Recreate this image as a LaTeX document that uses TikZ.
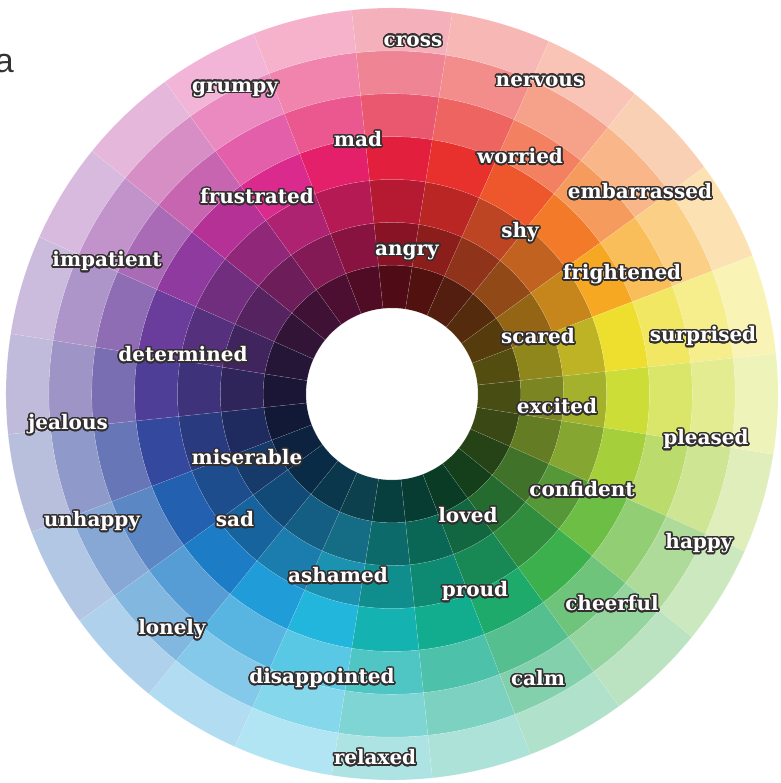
\documentclass[tikz,border=0pt]{standalone}
\usepackage{fontspec}
\usepackage[copies]{contour}
\setmainfont{DejaVu Serif}
\setsansfont{Liberation Sans}
\contourlength{1.5pt}
\contournumber{24}

\definecolor{hue0}{HTML}{E8302C}
\definecolor{hue1}{HTML}{EE562C}
\definecolor{hue2}{HTML}{F27A28}
\definecolor{hue3}{HTML}{F7A823}
\definecolor{hue4}{HTML}{EEDF2E}
\definecolor{hue5}{HTML}{CDDD38}
\definecolor{hue6}{HTML}{A6CF3C}
\definecolor{hue7}{HTML}{6CBE45}
\definecolor{hue8}{HTML}{3DB04E}
\definecolor{hue9}{HTML}{1EAA6A}
\definecolor{hue10}{HTML}{12AC8E}
\definecolor{hue11}{HTML}{14B2B0}
\definecolor{hue12}{HTML}{22B6DC}
\definecolor{hue13}{HTML}{209CD8}
\definecolor{hue14}{HTML}{1C7CC6}
\definecolor{hue15}{HTML}{2460B0}
\definecolor{hue16}{HTML}{34489E}
\definecolor{hue17}{HTML}{4E3E98}
\definecolor{hue18}{HTML}{6A3C9C}
\definecolor{hue19}{HTML}{8E3A9E}
\definecolor{hue20}{HTML}{B53196}
\definecolor{hue21}{HTML}{DA2A8E}
\definecolor{hue22}{HTML}{E4206A}
\definecolor{hue23}{HTML}{E2203E}
\definecolor{rim}{HTML}{332F30}

\newcommand{\feel}[1]{\contour{rim}{#1}}

\tikzset{
  feeling/.style={text=white, inner sep=0pt, font=\bfseries\fontsize{20}{20}\selectfont},
  patch/.style={draw=white, draw opacity=0.25, line width=0.3pt}
}

\begin{document}
\begin{tikzpicture}[x=1pt,y=1pt]
\useasboundingbox (-392,-389) rectangle (388,394);

% wheel: 24 hues, 7 rings from dark to pale
\foreach \k in {0,...,23}
  \foreach \r/\mix in {1/35!black, 2/60!black, 3/80!black, 4/100!white, 5/75!white, 6/55!white, 7/35!white}
  {
    \pgfmathsetmacro\a{81-15*\k}
    \pgfmathsetmacro\b{66-15*\k}
    \pgfmathsetmacro\ri{86+42.86*(\r-1)}
    \pgfmathsetmacro\ro{\ri+42.86}
    \filldraw[patch, fill=hue\k!\mix] (\a:\ri) arc[start angle=\a, end angle=\b, radius=\ri]
      -- (\b:\ro) arc[start angle=\b, end angle=\a, radius=\ro] -- cycle;
  }

\node[font=\sffamily\fontsize{34}{34}\selectfont, text=black!80, anchor=east, inner sep=0pt] (stray) at (-378,330) {a};

\node[feeling] (cross) at (21,352) {\feel{cross}};
\node[feeling] (nervous) at (148,312) {\feel{nervous}};
\node[feeling] (grumpy) at (-157,304) {\feel{grumpy}};
\node[feeling] (mad) at (-34,254) {\feel{mad}};
\node[feeling] (worried) at (128,237) {\feel{worried}};
\node[feeling] (embarrassed) at (248,202) {\feel{embarrassed}};
\node[feeling] (frustrated) at (-135,197) {\feel{frustrated}};
\node[feeling] (shy) at (128,161) {\feel{shy}};
\node[feeling] (angry) at (15,141) {\feel{angry}};
\node[feeling] (impatient) at (-285,132) {\feel{impatient}};
\node[feeling] (frightened) at (230,119) {\feel{frightened}};
\node[feeling] (scared) at (146,57) {\feel{scared}};
\node[feeling] (surprised) at (311,57) {\feel{surprised}};
\node[feeling] (determined) at (-209,39) {\feel{determined}};
\node[feeling] (excited) at (165,-13) {\feel{excited}};
\node[feeling] (jealous) at (-324,-31) {\feel{jealous}};
\node[feeling] (pleased) at (314,-46) {\feel{pleased}};
\node[feeling] (miserable) at (-145,-64) {\feel{miserable}};
\node[feeling] (confident) at (190,-96) {\feel{confident}};
\node[feeling] (loved) at (76,-122) {\feel{loved}};
\node[feeling] (sad) at (-157,-126) {\feel{sad}};
\node[feeling] (unhappy) at (-300,-128) {\feel{unhappy}};
\node[feeling] (happy) at (307,-150) {\feel{happy}};
\node[feeling] (ashamed) at (-54,-182) {\feel{ashamed}};
\node[feeling] (proud) at (83,-198) {\feel{proud}};
\node[feeling] (cheerful) at (220,-210) {\feel{cheerful}};
\node[feeling] (lonely) at (-220,-236) {\feel{lonely}};
\node[feeling] (disappointed) at (-70,-285) {\feel{disappointed}};
\node[feeling] (calm) at (146,-285) {\feel{calm}};
\node[feeling] (relaxed) at (-17,-364) {\feel{relaxed}};
\end{tikzpicture}
\end{document}
